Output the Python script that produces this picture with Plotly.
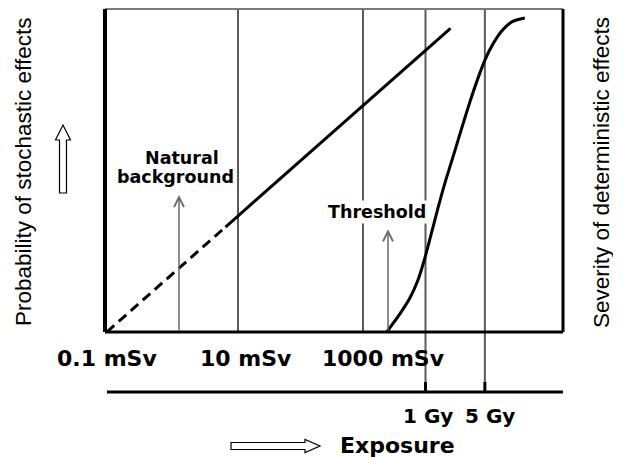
import plotly.graph_objects as go

# dose positions on a schematic log scale (decades of mSv)
dose_label_x = [-1.1, 1.13, 3.32]
dose_labels = ["0.1 mSv", "10 mSv", "1000 mSv"]
grid_x = [1, 3]                 # 10 mSv, 1000 mSv
gy_x = [4, 4.95]                # 1 Gy, 5 Gy
gy_labels = ["1 Gy", "5 Gy"]

# stochastic effects: linear, dashed at low dose
stoch_dash_x = [-1.1, 0.8]
stoch_dash_y = [0.0, 0.325]
stoch_x = [0.8, 4.4]
stoch_y = [0.325, 0.94]

# deterministic effects: sigmoid above threshold
det_x = [3.38, 3.59, 3.75, 3.88, 3.99, 4.10, 4.20, 4.31, 4.44, 4.57,
         4.71, 4.84, 4.95, 5.08, 5.22, 5.38, 5.59]
det_y = [0.0, 0.056, 0.105, 0.161, 0.229, 0.310, 0.384, 0.461, 0.542, 0.625,
         0.712, 0.786, 0.842, 0.892, 0.932, 0.960, 0.972]

background_x, background_tip = 0.056, 0.424
threshold_x, threshold_tip = 3.4, 0.318

# page body has an 8px margin, so the figure is 8px smaller than the window
PAGE = 8
W, H = 621 - PAGE, 457 - PAGE
X0, X1, Y0, Y1 = 105, 563, 9, 332          # plot frame in window pixels
PW, PH = X1 - X0, Y1 - Y0
MARGIN = dict(l=X0 - PAGE, r=W - (X1 - PAGE), t=Y0 - PAGE, b=H - (Y1 - PAGE))


def px_x(p):
    return (p - X0) / PW


def px_y(p):
    return (Y1 - p) / PH


def px_path(points):
    """window pixel points -> closed svg path in paper coords"""
    parts = []
    for i, (x, y) in enumerate(points):
        parts.append(("M" if i == 0 else "L") + f"{px_x(x):.4f},{px_y(y):.4f}")
    return " ".join(parts) + " Z"


def bold(size):
    return dict(family="DejaVu Sans", size=size, color="black", weight="bold")


def label(x, y, text, font, **kw):
    """centred text at window pixel position"""
    return dict(x=px_x(x), y=px_y(y), xref="paper", yref="paper", text=text,
                showarrow=False, font=font, xanchor="center", yanchor="middle", **kw)


GRID = "#5a5a5a"
SIDE_FONT = dict(family="Liberation Sans", size=22.5, color="black")

fig = go.Figure()

fig.add_trace(go.Scatter(
    x=stoch_dash_x, y=stoch_dash_y, mode="lines",
    line=dict(color="black", width=3, dash="10px,6px"),
    hoverinfo="skip", showlegend=False
))
fig.add_trace(go.Scatter(
    x=stoch_x, y=stoch_y, mode="lines",
    line=dict(color="black", width=3),
    hoverinfo="skip", showlegend=False
))
fig.add_trace(go.Scatter(
    x=det_x, y=det_y, mode="lines",
    line=dict(color="black", width=3, shape="spline", smoothing=0.8),
    hoverinfo="skip", showlegend=False
))

shapes = []
# vertical lines
for gx in grid_x:
    shapes.append(dict(type="line", xref="x", yref="paper", x0=gx, x1=gx, y0=0, y1=1,
                       line=dict(color=GRID, width=2), layer="below"))
for gx in gy_x:
    shapes.append(dict(type="line", xref="x", yref="paper", x0=gx, x1=gx,
                       y0=px_y(392), y1=1, line=dict(color=GRID, width=2), layer="below"))
    shapes.append(dict(type="line", xref="x", yref="paper", x0=gx, x1=gx,
                       y0=px_y(392), y1=px_y(382), line=dict(color="black", width=3)))

# frame
shapes += [
    dict(type="line", xref="paper", yref="paper", x0=0, x1=1, y0=1, y1=1,
         line=dict(color="#7a7a7a", width=2)),
    dict(type="line", xref="paper", yref="paper", x0=0, x1=0, y0=0, y1=1,
         line=dict(color="black", width=4)),
    dict(type="line", xref="paper", yref="paper", x0=0, x1=1, y0=0, y1=0,
         line=dict(color="black", width=3)),
    dict(type="line", xref="paper", yref="paper", x0=1, x1=1, y0=0, y1=1,
         line=dict(color="black", width=3)),
    # lower exposure axis
    dict(type="line", xref="paper", yref="paper", x0=px_x(107), x1=1,
         y0=px_y(392), y1=px_y(392), line=dict(color="black", width=3)),
]

# hollow arrows
up_arrow = [(59.5, 193), (59.5, 140), (55.5, 140), (63, 125), (70.5, 140), (66.5, 140), (66.5, 193)]
right_arrow = [(231, 442.5), (305, 442.5), (305, 439.5), (320, 446), (305, 452.5), (305, 449.5), (231, 449.5)]
for pts in (up_arrow, right_arrow):
    shapes.append(dict(type="path", xref="paper", yref="paper", path=px_path(pts),
                       fillcolor="white", line=dict(color="black", width=1.2)))

annotations = []
for lx, lab in zip(dose_label_x, dose_labels):
    annotations.append(dict(x=lx, y=px_y(358), xref="x", yref="paper", text=lab,
                            showarrow=False, font=bold(22),
                            xanchor="center", yanchor="middle"))
for gx, lab, sh in zip(gy_x, gy_labels, [2, 5]):
    annotations.append(dict(x=gx, y=px_y(416), xref="x", yref="paper", text=lab, xshift=sh,
                            showarrow=False, font=bold(20),
                            xanchor="center", yanchor="middle"))

annotations += [
    label(397, 445, "Exposure", bold(22)),
    label(23, 172, "Probability of stochastic effects", SIDE_FONT, textangle=-90),
    label(601, 173, "Severity of deterministic effects", SIDE_FONT, textangle=-90),
    label(182, 158, "Natural", bold(17.5)),
    label(175, 177, "background", bold(17.5)),
    label(377, 212, "Threshold", bold(17.5), bgcolor="white", borderpad=1),
    # thin arrows
    dict(x=background_x, y=background_tip, ax=background_x, ay=0, xref="x", yref="y",
         axref="x", ayref="y", text="", showarrow=True, arrowhead=5, arrowsize=1.3,
         arrowwidth=1.5, arrowcolor="#6a6a6a"),
    dict(x=threshold_x, y=threshold_tip, ax=threshold_x, ay=0, xref="x", yref="y",
         axref="x", ayref="y", text="", showarrow=True, arrowhead=5, arrowsize=1.3,
         arrowwidth=1.5, arrowcolor="#6a6a6a"),
]

fig.update_layout(
    width=W, height=H,
    margin=MARGIN,
    paper_bgcolor="white", plot_bgcolor="white",
    xaxis=dict(range=[-1.128, 6.2], visible=False, fixedrange=True),
    yaxis=dict(range=[0, 1], visible=False, fixedrange=True),
    shapes=shapes,
    annotations=annotations,
    showlegend=False,
)

fig.write_html("out.html")
